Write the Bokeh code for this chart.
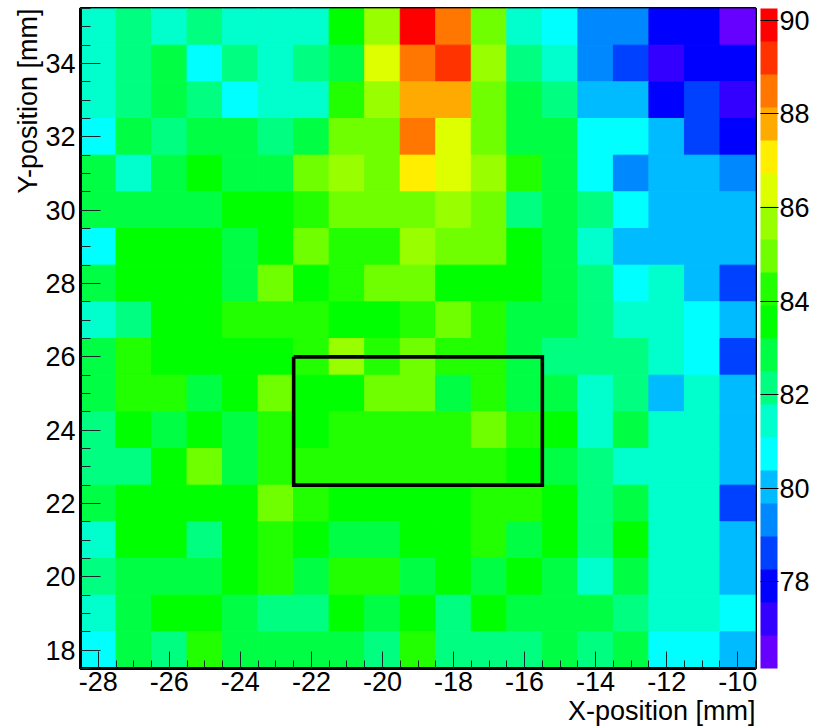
from bokeh.plotting import figure
from bokeh.models import ColumnDataSource, LinearColorMapper, ColorBar, SingleIntervalTicker, Range1d, Title
from bokeh.transform import transform
from bokeh.embed import file_html
from bokeh.resources import INLINE

x_centers = [-28, -27, -26, -25, -24, -23, -22, -21, -20, -19, -18, -17, -16, -15, -14, -13, -12, -11, -10]
y_centers = [35, 34, 33, 32, 31, 30, 29, 28, 27, 26, 25, 24, 23, 22, 21, 20, 19, 18]
x_tick_values = [-28, -26, -24, -22, -20, -18, -16, -14, -12, -10]
x_tick_labels = ["-28", "-26", "-24", "-22", "-20", "-18", "-16", "-14", "-12", "-10"]

row_35 = [81.4,82.1,81.4,82.1,81.4,81.4,81.4,83.5,85.7,89.9,88.5,85.0,81.4,80.7,79.3,79.3,77.9,77.9,76.5]
row_34 = [81.4,82.1,82.9,80.7,82.1,81.4,82.1,82.9,86.4,88.5,89.2,85.7,82.1,81.4,79.3,78.6,77.2,77.9,77.9]
row_33 = [81.4,82.1,82.9,82.1,80.7,81.4,81.4,84.3,85.7,87.8,87.8,85.0,82.9,82.1,80.0,80.0,77.9,78.6,77.2]
row_32 = [80.7,82.9,82.1,82.9,82.9,82.1,82.9,85.0,85.0,88.5,86.4,85.0,82.9,82.9,80.7,80.7,80.0,78.6,77.9]
row_31 = [82.9,81.4,82.9,83.5,82.9,82.9,85.0,85.7,85.0,87.1,86.4,85.7,84.3,82.9,80.7,79.3,80.0,80.0,79.3]
row_30 = [82.9,82.9,82.9,82.9,83.5,83.5,84.3,85.0,85.0,85.0,85.7,85.0,82.1,82.9,82.1,80.7,80.0,80.0,80.0]
row_29 = [80.7,83.5,83.5,83.5,82.9,83.5,85.0,84.3,84.3,85.7,85.0,85.0,83.5,82.9,81.4,80.0,80.0,80.0,80.0]
row_28 = [82.9,83.5,83.5,83.5,82.9,85.0,83.5,84.3,85.0,85.0,83.5,83.5,83.5,82.9,82.1,80.7,81.4,80.0,78.6]
row_27 = [81.4,82.1,83.5,83.5,84.3,84.3,84.3,83.5,83.5,84.3,85.0,84.3,82.9,82.9,82.1,81.4,81.4,80.7,80.0]
row_26 = [82.9,84.3,83.5,83.5,83.5,83.5,84.3,85.7,84.3,85.0,84.3,84.3,82.9,82.1,82.1,82.1,81.4,80.7,78.6]
row_25 = [82.9,84.3,84.3,82.9,83.5,85.0,83.5,83.5,85.0,85.0,82.9,84.3,82.9,82.9,81.4,82.1,80.0,81.4,80.0]
row_24 = [82.1,83.5,82.9,83.5,82.9,84.3,83.5,84.3,84.3,84.3,84.3,85.0,84.3,83.5,81.4,82.9,81.4,81.4,80.0]
row_23 = [82.1,82.1,83.5,85.0,82.9,84.3,84.3,84.3,84.3,84.3,84.3,84.3,83.5,82.9,82.1,81.4,81.4,81.4,80.0]
row_22 = [82.9,83.5,83.5,83.5,83.5,85.0,84.3,83.5,83.5,83.5,83.5,84.3,84.3,83.5,82.1,82.9,81.4,81.4,78.6]
row_21 = [81.4,83.5,83.5,82.1,83.5,84.3,83.5,82.9,82.9,83.5,83.5,84.3,82.9,83.5,82.1,83.5,81.4,81.4,80.0]
row_20 = [82.1,82.9,82.9,82.9,83.5,84.3,82.9,84.3,84.3,82.9,83.5,82.9,83.5,82.9,81.4,82.9,81.4,81.4,80.0]
row_19 = [81.4,82.9,83.5,83.5,82.9,82.1,82.1,83.5,82.9,83.5,82.1,83.5,82.9,82.9,82.9,82.1,81.4,81.4,80.7]
row_18 = [80.7,82.9,82.1,84.3,82.9,82.9,82.9,82.9,82.1,84.3,82.1,82.1,82.1,82.9,82.1,82.9,80.7,80.7,80.0]

rows = [row_35, row_34, row_33, row_32, row_31, row_30, row_29, row_28, row_27,
        row_26, row_25, row_24, row_23, row_22, row_21, row_20, row_19, row_18]

palette = ["#6600ff", "#3300ff", "#0000ff", "#0040ff", "#0088ff", "#00bbff", "#00ffff",
           "#00ffcc", "#00ff80", "#00ff44", "#00ff00", "#22ff00", "#70ff00", "#99ff00",
           "#ddff00", "#ffee00", "#ffaa00", "#ff7700", "#ff3300", "#ff0000"]
z_low, z_high = 76.15, 90.25

box_x = [-22.5, -15.5, -15.5, -22.5, -22.5]
box_y = [26, 26, 22.5, 22.5, 26]

xs, ys, zs = [], [], []
for yc, row in zip(y_centers, rows):
    for xc, v in zip(x_centers, row):
        xs.append(xc); ys.append(yc); zs.append(v)
source = ColumnDataSource(dict(x=xs, y=ys, z=zs))
mapper = LinearColorMapper(palette=palette, low=z_low, high=z_high)

FONT = "Liberation Sans"
p = figure(width=821, height=727, frame_width=675, frame_height=660,
           x_range=Range1d(-28.5, -9.5), y_range=Range1d(17.5, 35.5),
           output_backend="svg", toolbar_location=None,
           min_border_left=80, min_border_right=66, min_border_top=8, min_border_bottom=59)
p.grid.visible = False
p.background_fill_color = "white"
p.rect("x", "y", 1, 1, source=source, fill_color=transform("z", mapper),
       line_color=transform("z", mapper), line_width=1)
p.line(box_x, box_y, line_color="black", line_width=3.6, line_join="miter")

p.outline_line_color = "black"
p.outline_line_width = 3

for ax, mj, mn in ((p.xaxis[0], 17, 8), (p.yaxis[0], 20, 10)):
    ax.ticker = SingleIntervalTicker(interval=2, num_minor_ticks=4)
    ax.major_tick_in = mj
    ax.major_tick_out = 0
    ax.minor_tick_in = mn
    ax.minor_tick_out = 0
    ax.major_tick_line_color = "#102828"
    ax.minor_tick_line_color = "#102828"
    ax.axis_line_color = "black"
    ax.axis_line_width = 3
    ax.major_label_text_font = FONT
    ax.major_label_text_font_size = "27px"
    ax.major_label_text_color = "black"
p.xaxis[0].major_label_overrides = dict(zip(x_tick_values, x_tick_labels))
p.xaxis[0].major_label_standoff = 3
p.yaxis[0].major_label_standoff = 5

cb = ColorBar(color_mapper=mapper, width=17, height=660, location=(5, 0),
              padding=0, margin=0,
              ticker=SingleIntervalTicker(interval=2, num_minor_ticks=0),
              major_tick_in=17, major_tick_out=1, minor_tick_in=0, minor_tick_out=0,
              major_tick_line_color="black", bar_line_color=None, border_line_color=None,
              background_fill_color=None,
              major_label_text_font=FONT, major_label_text_font_size="27px",
              major_label_text_color="black", label_standoff=1)
p.add_layout(cb, "right")

x_title = Title(text="X-position [mm]", align="right", standoff=1, offset=0,
                text_font=FONT, text_font_size="27px", text_font_style="normal", text_color="black")
y_title = Title(text="Y-position [mm]", align="right", standoff=0, offset=0,
                text_font=FONT, text_font_size="27px", text_font_style="normal", text_color="black")
p.add_layout(x_title, "below")
p.add_layout(y_title, "left")

open("out.html", "w").write(file_html(p, INLINE))
